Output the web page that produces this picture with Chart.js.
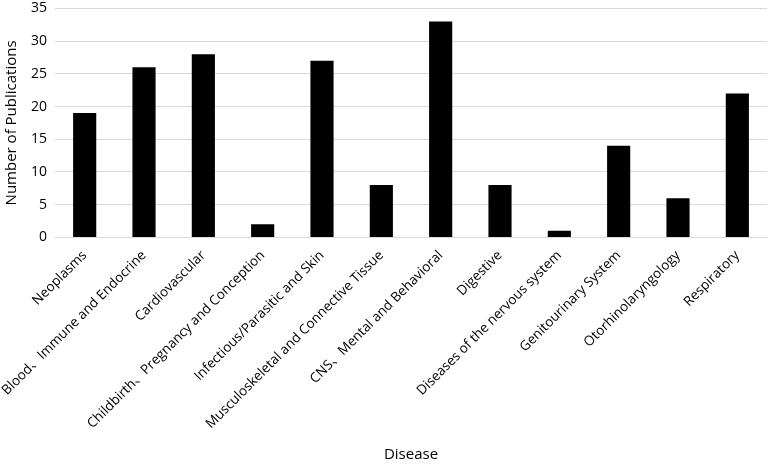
<!DOCTYPE html>
<html>
<head>
<meta charset="utf-8">
<script src="https://cdn.jsdelivr.net/npm/chart.js@4/dist/chart.umd.min.js"></script>
<style>
  html, body { margin: 0; padding: 0; background: #fff; overflow: hidden; }
  #wrap { width: 768px; height: 472px; margin-top: -8px; }
</style>
</head>
<body>
<div id="wrap"><canvas id="chart"></canvas></div>
<script>
const categories = [
  'Neoplasms',
  'Blood、Immune and Endocrine',
  'Cardiovascular',
  'Childbirth、Pregnancy and Conception',
  'Infectious/Parasitic and Skin',
  'Musculoskeletal and Connective Tissue',
  'CNS、Mental and Behavioral',
  'Digestive',
  'Diseases of the nervous system',
  'Genitourinary System',
  'Otorhinolaryngology',
  'Respiratory'
];
const publications = [19, 26, 28, 2, 27, 8, 33, 8, 1, 14, 6, 22];
const yTicks = [0, 5, 10, 15, 20, 25, 30, 35];

const FONT = "'Open Sans', 'Noto Sans CJK SC', sans-serif";

new Chart(document.getElementById('chart'), {
  type: 'bar',
  data: {
    labels: categories,
    datasets: [{
      data: publications,
      backgroundColor: '#000000',
      barPercentage: 0.39,
      categoryPercentage: 1.0
    }]
  },
  options: {
    responsive: true,
    maintainAspectRatio: false,
    animation: false,
    layout: { padding: { top: 0, right: 1, left: 3, bottom: 0 } },
    plugins: { legend: { display: false }, tooltip: { enabled: false } },
    scales: {
      x: {
        grid: { display: false },
        border: { color: '#d9d9d9' },
        ticks: {
          color: '#000',
          font: { family: FONT, size: 13.5 },
          minRotation: 45,
          maxRotation: 45,
          autoSkip: false,
          padding: 2
        },
        title: {
          display: true,
          text: 'Disease',
          color: '#000',
          font: { family: FONT, size: 15 },
          padding: { top: 12, bottom: 0 }
        }
      },
      y: {
        min: 0,
        max: 35,
        afterBuildTicks: axis => { axis.ticks = yTicks.map(v => ({ value: v })); },
        grid: { color: '#d9d9d9', drawTicks: false },
        border: { display: false },
        ticks: {
          color: '#000',
          font: { family: FONT, size: 14 },
          padding: 8
        },
        title: {
          display: true,
          text: 'Number of Publications',
          color: '#000',
          font: { family: FONT, size: 15 },
          padding: { top: 0, bottom: 2 }
        }
      }
    }
  }
});
</script>
</body>
</html>
